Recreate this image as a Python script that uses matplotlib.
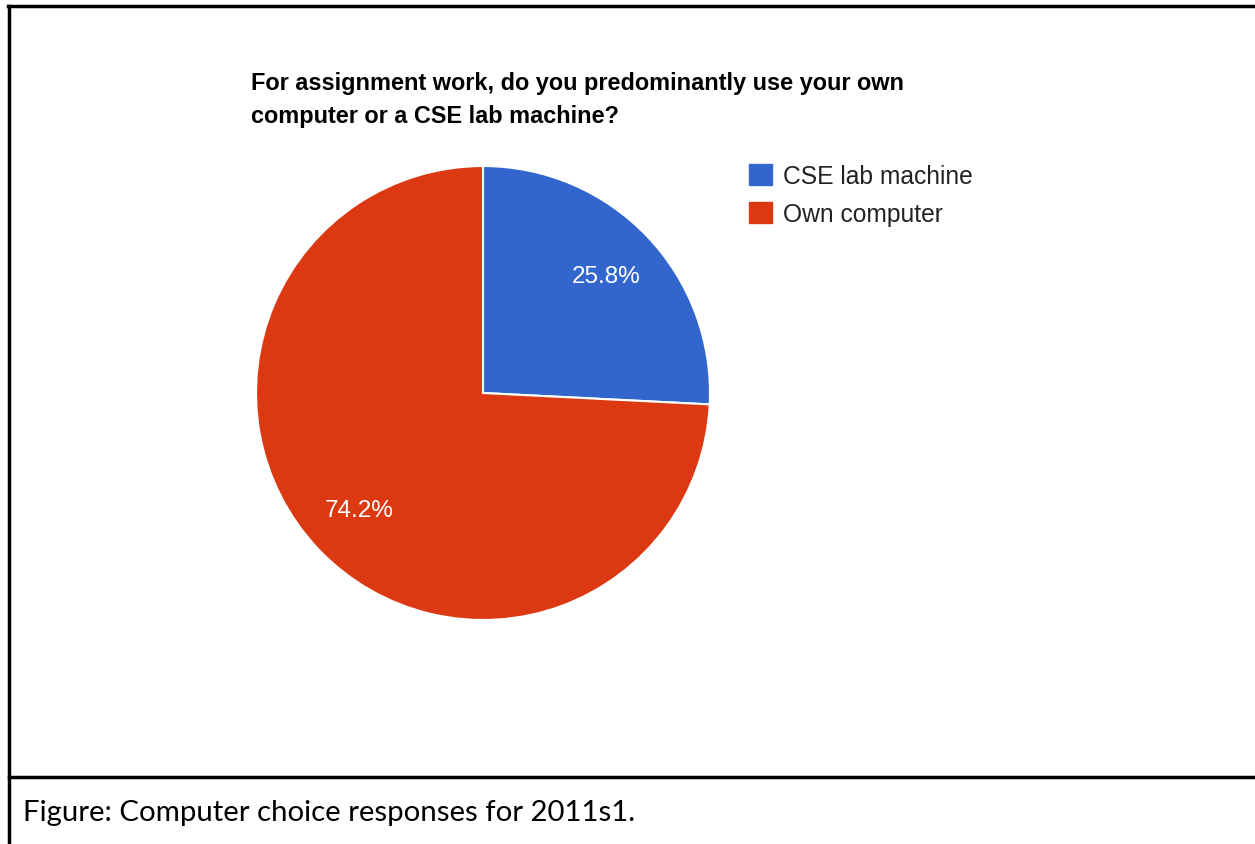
import matplotlib
matplotlib.use("Agg")
import matplotlib.pyplot as plt
from matplotlib.lines import Line2D
from matplotlib.patches import Patch

# 数据
labels = ["CSE lab machine", "Own computer"]
shares = [25.8, 74.2]
colors = ["#3366CC", "#DC3912"]
title = "For assignment work, do you predominantly use your own\ncomputer or a CSE lab machine?"
caption = "Figure: Computer choice responses for 2011s1."

W, H = 1255, 845
fig = plt.figure(figsize=(W / 100, H / 100), dpi=100)

# 饼图位置（像素 -> 图坐标）
cx, cy, r = 483, 394, 227
ax = fig.add_axes([(cx - r) / W, (H - cy - r) / H, 2 * r / W, 2 * r / H])
wedges, texts, autotexts = ax.pie(
    shares, colors=colors, startangle=90, counterclock=False,
    autopct="%.1f%%", pctdistance=0.75,
    wedgeprops=dict(edgecolor="white", linewidth=1.5),
    textprops=dict(color="white", fontsize=17.5, family="Liberation Sans"))
ax.set_xlim(-1, 1)
ax.set_ylim(-1, 1)
ax.set_aspect("equal")

# 标题
fig.text(251 / W, 1 - 72 / H, title, fontsize=16.9, fontweight="bold",
         family="Liberation Sans", va="top", ha="left", linespacing=1.58)

# 图例
handles = [Patch(facecolor=c, edgecolor=c) for c in colors]
fig.legend(handles, labels, loc="upper left", bbox_to_anchor=(749 / W, 1 - 165 / H),
           frameon=False, prop=dict(family="Liberation Sans", size=17.7),
           handlelength=0.95, handleheight=0.95, handletextpad=0.45,
           labelspacing=0.56, borderpad=0, borderaxespad=0,
           labelcolor="#222222")

# 边框线
lw = 2.5
fig.add_artist(Line2D([8 / W, 1], [1 - 7 / H, 1 - 7 / H], color="black", lw=lw))
fig.add_artist(Line2D([9 / W, 9 / W], [0, 1 - 7 / H], color="black", lw=lw))
fig.add_artist(Line2D([9 / W, 1], [1 - 778 / H, 1 - 778 / H], color="black", lw=lw))

# 说明文字
fig.text(23 / W, 1 - 813 / H, caption, fontsize=21.2, family="Lato",
         va="center", ha="left")

fig.savefig("out.png", dpi=100)
